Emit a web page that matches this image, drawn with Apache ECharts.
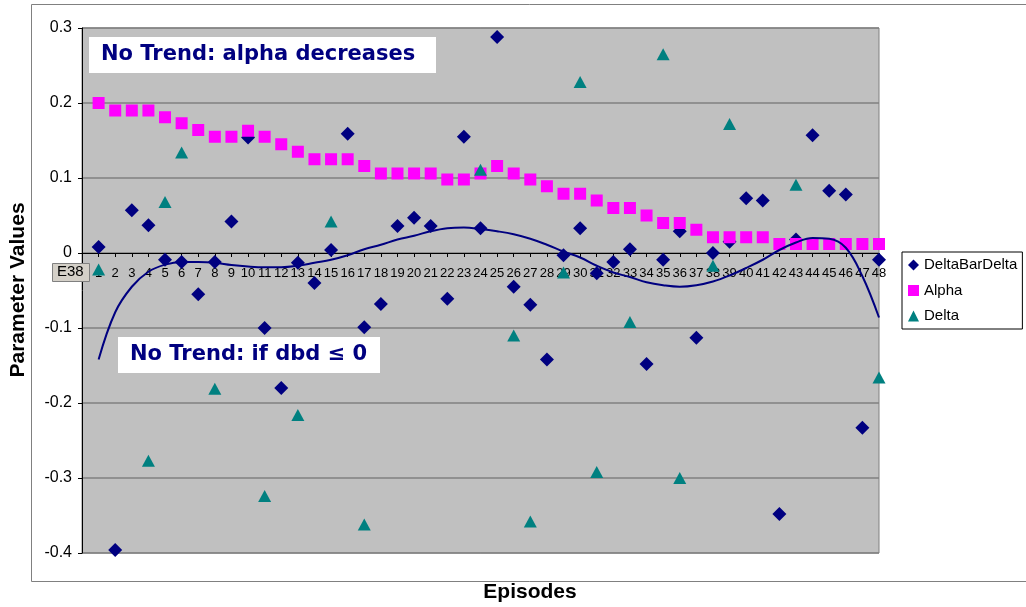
<!DOCTYPE html>
<html><head><meta charset="utf-8">
<script src="https://cdn.jsdelivr.net/npm/echarts@6/dist/echarts.min.js"></script>
<style>html,body{margin:0;padding:0;background:#fff}#c{width:1026px;height:607px}</style>
</head><body><div id="c"></div>
<script>
const episodes = [1,2,3,4,5,6,7,8,9,10,11,12,13,14,15,16,17,18,19,20,21,22,23,24,25,26,27,28,29,30,31,32,33,34,35,36,37,38,39,40,41,42,43,44,45,46,47,48];
const deltaBarDelta = [0.008,-0.396,0.057,0.037,-0.009,-0.012,-0.055,-0.012,0.042,0.154,-0.100,-0.180,-0.013,-0.040,0.004,0.159,-0.099,-0.068,0.036,0.047,0.036,-0.061,0.155,0.033,0.288,-0.045,-0.069,-0.142,-0.003,0.033,-0.027,-0.012,0.005,-0.148,-0.009,0.029,-0.113,0.000,0.015,0.073,0.070,-0.348,0.018,0.157,0.083,0.078,-0.233,-0.009];
const alpha = [0.200,0.190,0.190,0.190,0.181,0.173,0.164,0.155,0.155,0.163,0.155,0.145,0.135,0.125,0.125,0.125,0.116,0.106,0.106,0.106,0.106,0.098,0.098,0.106,0.116,0.106,0.098,0.089,0.079,0.079,0.070,0.060,0.060,0.050,0.040,0.040,0.031,0.021,0.021,0.021,0.021,0.012,0.012,0.012,0.012,0.012,0.012,0.012];
const delta = [-0.022,null,null,-0.277,0.068,0.134,null,-0.181,null,null,-0.324,null,-0.216,null,0.042,null,-0.362,null,null,null,null,null,null,0.111,null,-0.110,-0.358,null,-0.026,0.228,-0.292,null,-0.092,null,0.265,-0.300,null,-0.017,0.172,null,null,null,0.091,null,null,null,null,-0.166];
const trend = [-0.142,-0.079,-0.045,-0.025,-0.0155,-0.012,-0.012,-0.013,-0.016,-0.018,-0.019,-0.019,-0.017,-0.013,-0.009,-0.003,0.005,0.011,0.018,0.023,0.029,0.033,0.034,0.032,0.029,0.025,0.019,0.011,0.002,-0.006,-0.017,-0.026,-0.032,-0.039,-0.043,-0.045,-0.043,-0.038,-0.030,-0.020,-0.009,0.004,0.014,0.020,0.019,0.007,-0.031,-0.086];
const yMin = -0.4, yMax = 0.3, yStep = 0.1;

function pairs(arr){ const out=[]; episodes.forEach((e,i)=>{ if(arr[i]!==null) out.push([e,arr[i]]); }); return out; }

const gridH = 525;
const zeroOffset = -gridH * (0 - yMin) / (yMax - yMin);

const chart = echarts.init(document.getElementById('c'));
chart.setOption({
  animation:false,
  backgroundColor:'#fff',
  grid:{left:82, top:28, width:797, height:gridH, show:true, backgroundColor:'#c0c0c0', borderColor:'#808080', borderWidth:1},
  xAxis:{type:'value', min:0, max:48, interval:1, position:'bottom', offset:zeroOffset,
    axisLine:{onZero:false, lineStyle:{color:'#000', width:1}},
    axisTick:{show:true, length:4, lineStyle:{color:'#000'}},
    axisLabel:{margin:14, fontFamily:'Liberation Sans, Arial', fontSize:13, color:'#000',
      formatter:v=> v===0 ? '' : String(v)},
    splitLine:{show:false}},
  yAxis:{type:'value', min:yMin, max:yMax, interval:yStep,
    axisLine:{show:true, onZero:false, lineStyle:{color:'#000'}},
    axisTick:{show:true, length:4, lineStyle:{color:'#000'}},
    axisLabel:{margin:10, fontFamily:'Liberation Sans, Arial', fontSize:16, color:'#000',
      formatter:v=> String(Math.round(v*10)/10)},
    splitLine:{show:true, lineStyle:{color:'#808080', width:1.5}}},
  legend:{orient:'vertical', left:902, top:252, padding:[5,5,5,6], itemGap:9.5,
    itemWidth:11, itemHeight:11, borderColor:'#000', borderWidth:1, backgroundColor:'#fff',
    textStyle:{fontFamily:'Liberation Sans, Arial', fontSize:15, color:'#000', lineHeight:16},
    data:[{name:'DeltaBarDelta', icon:'diamond'},{name:'Alpha', icon:'rect'},{name:'Delta', icon:'triangle'}]},
  series:[
    {name:'DeltaBarDelta', type:'scatter', symbol:'diamond', symbolSize:14, itemStyle:{color:'#000080', opacity:1}, data:pairs(deltaBarDelta)},
    {name:'Alpha', type:'scatter', symbol:'rect', symbolSize:12, itemStyle:{color:'#ff00ff', opacity:1}, data:pairs(alpha)},
    {name:'Delta', type:'scatter', symbol:'triangle', symbolSize:[13,12], itemStyle:{color:'#008080', opacity:1}, data:pairs(delta)},
    {name:'Trend', type:'line', smooth:0.4, showSymbol:false, lineStyle:{color:'#000080', width:2}, data:pairs(trend), z:5}
  ],
  graphic:[
    {type:'rect', left:29, top:2, shape:{width:1010, height:577}, style:{fill:'none', stroke:'#808080', lineWidth:1}, silent:true, z:-10},
    {type:'rect', left:89, top:37, shape:{width:347, height:36}, style:{fill:'#fff'}, z:10},
    {type:'text', left:101, top:44, style:{text:'No Trend: alpha decreases', fontFamily:'DejaVu Sans', fontWeight:'bold', fontSize:21, fill:'#000080'}, z:11},
    {type:'rect', left:118, top:337, shape:{width:262, height:36}, style:{fill:'#fff'}, z:10},
    {type:'text', left:130, top:344, style:{text:'No Trend: if dbd ≤ 0', fontFamily:'DejaVu Sans', fontWeight:'bold', fontSize:21, fill:'#000080'}, z:11},
    {type:'rect', left:52, top:263, shape:{width:37, height:18}, style:{fill:'#d4d0c8', stroke:'#808080', lineWidth:1}, z:10},
    {type:'text', left:57, top:264, style:{text:'E38', fontFamily:'Liberation Sans, Arial', fontSize:15, fill:'#000'}, z:11},
    {type:'text', x:18, y:290, rotation:Math.PI/2, style:{text:'Parameter Values', fontFamily:'Liberation Sans, Arial', fontWeight:'bold', fontSize:21, fill:'#000', align:'center', verticalAlign:'middle'}},
    {type:'text', x:530, y:592, style:{text:'Episodes', fontFamily:'Liberation Sans, Arial', fontWeight:'bold', fontSize:21, fill:'#000', align:'center', verticalAlign:'middle'}}
  ]
});
</script></body></html>
